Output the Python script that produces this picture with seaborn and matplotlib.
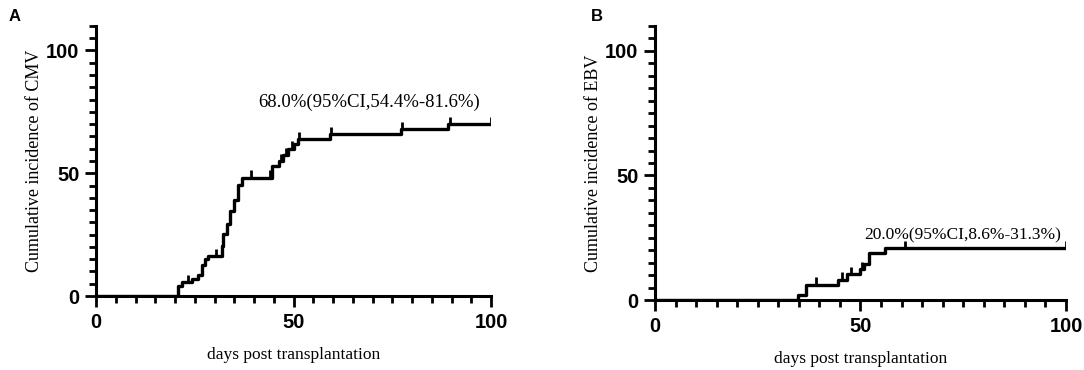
import numpy as np
import pandas as pd
import matplotlib
matplotlib.use("Agg")
import matplotlib.pyplot as plt
from matplotlib.ticker import MultipleLocator
import seaborn as sns

# CMV curve (panel A): event days and cumulative incidence (%) after each event
cmv_days = [20.8, 21.7, 24.2, 25.9, 26.8, 27.6, 28.4, 31.8, 32.2, 33.1, 33.9,
            34.8, 36.0, 36.9, 44.5, 46.2, 47.4, 48.7, 50.0, 51.2, 59.2, 77.2, 89.2]
cmv_inc = [3.9, 5.5, 6.8, 8.7, 12.8, 14.9, 16.2, 20.4, 25.2, 29.3, 34.8,
           39.0, 45.2, 48.2, 52.8, 55.0, 57.4, 60.0, 62.0, 63.8, 65.8, 67.9, 70.0]
cmv_censor = [23.3, 30.3, 39.2, 44.0, 46.8, 48.2, 49.6, 51.5, 59.5, 77.5, 89.5, 100.0]
cmv_text = "68.0%(95%CI,54.4%-81.6%)"

# EBV curve (panel B)
ebv_days = [34.9, 36.7, 44.6, 46.7, 49.8, 50.8, 52.0, 56.0]
ebv_inc = [2.2, 6.2, 8.2, 10.4, 12.4, 14.5, 18.7, 20.8]
ebv_censor = [39.1, 45.4, 47.6, 50.3, 60.8, 100.0]
ebv_text = "20.0%(95%CI,8.6%-31.3%)"

sns.set_style("ticks")
plt.rcParams["font.family"] = ["Liberation Sans", "DejaVu Sans"]
plt.rcParams["axes.edgecolor"] = "black"
plt.rcParams["xtick.color"] = "black"
plt.rcParams["ytick.color"] = "black"
plt.rcParams["text.color"] = "black"
plt.rcParams["axes.labelcolor"] = "black"
serif = ["Liberation Serif", "DejaVu Serif"]

fig = plt.figure(figsize=(10.84, 3.70), dpi=100)
ax_a = fig.add_axes([0.0886, 0.200, 0.3644, 0.730])
ax_b = fig.add_axes([0.6042, 0.189, 0.3792, 0.741])


def draw_panel(ax, days, inc, censor, label, text, text_xy, text_size):
    df = pd.DataFrame({"day": [0.0] + days + [100.0],
                       "inc": [0.0] + inc + [inc[-1]]})
    sns.lineplot(data=df, x="day", y="inc", drawstyle="steps-post",
                 color="black", linewidth=2.4, ax=ax)
    # censor marks: short vertical ticks above the curve
    cen = np.array(censor)
    idx = np.searchsorted(df["day"].values, cen, side="right") - 1
    cy = df["inc"].values[idx]
    ax.vlines(cen, cy, cy + 3.0, color="black", linewidth=2.0)

    ax.set_xlim(0, 100)
    ax.set_ylim(0, 110)
    ax.xaxis.set_major_locator(MultipleLocator(50))
    ax.xaxis.set_minor_locator(MultipleLocator(5))
    ax.yaxis.set_major_locator(MultipleLocator(50))
    ax.yaxis.set_minor_locator(MultipleLocator(5))
    ax.tick_params(which="major", length=8, width=2.0, labelsize=14.5, pad=4)
    ax.tick_params(which="minor", length=5, width=2.0)
    for t in ax.get_xticklabels() + ax.get_yticklabels():
        t.set_fontweight("bold")
    sns.despine(ax=ax)
    for s in ["left", "bottom"]:
        ax.spines[s].set_linewidth(2.2)
    ax.set_xlabel("days post transplantation", family=serif, fontsize=12.5, labelpad=11)
    ax.set_ylabel(label, family=serif, fontsize=13, labelpad=2)
    ax.text(text_xy[0], text_xy[1], text, family=serif, fontsize=text_size,
            va="center", ha="left")


draw_panel(ax_a, cmv_days, cmv_inc, cmv_censor,
           "Cumulative incidence of CMV", cmv_text, (41, 79), 13.5)
draw_panel(ax_b, ebv_days, ebv_inc, ebv_censor,
           "Cumulative incidence of EBV", ebv_text, (51, 26), 12.5)

fig.text(0.008, 0.955, "A", fontsize=12, fontweight="bold", va="center")
fig.text(0.545, 0.955, "B", fontsize=12, fontweight="bold", va="center")

fig.savefig("out.png", dpi=100)
